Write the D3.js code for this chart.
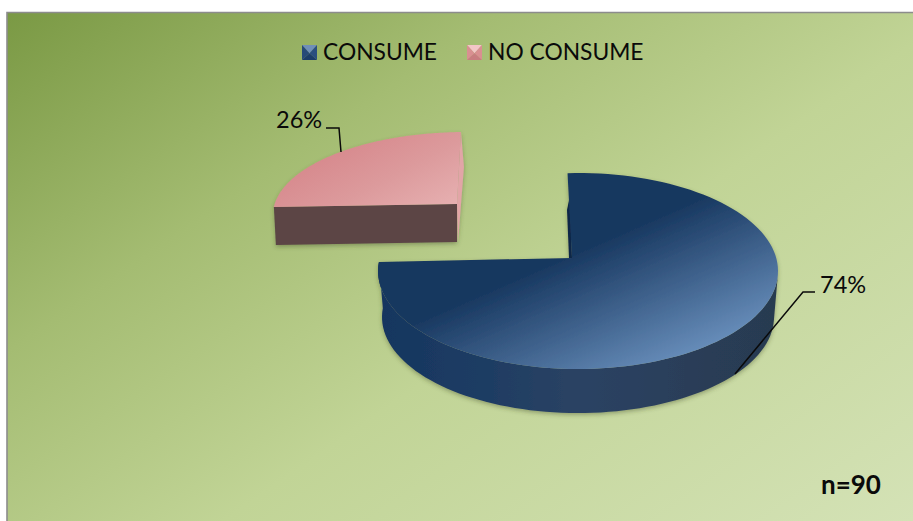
<!DOCTYPE html>
<html>
<head>
<meta charset="utf-8">
<script src="https://cdn.jsdelivr.net/npm/d3@7"></script>
<style>
  html, body { margin: 0; padding: 0; background: #fff; }
  svg { display: block; }
  text { font-family: Lato, "Open Sans", sans-serif; fill: #0a0a0a; }
</style>
</head>
<body>
<svg id="chart" width="913" height="521"></svg>
<script>
const categories = ["CONSUME", "NO CONSUME"];
const shares = [74, 26];
const sampleLabel = "n=90";

const W = 913, H = 521;
const svg = d3.select("#chart");
const defs = svg.append("defs");

function linear(id, coords, stops) {
  const g = defs.append("linearGradient").attr("id", id).attr("gradientUnits", "userSpaceOnUse");
  Object.entries(coords).forEach(([k, v]) => g.attr(k, v));
  stops.forEach(([o, c]) => g.append("stop").attr("offset", o).attr("stop-color", c));
}

linear("plate", { x1: 7, y1: 12, x2: 538, y2: 780 }, [
  [0, "#7a9944"], [0.3, "#a4bc72"], [0.58, "#c1d496"], [1, "#d4e2b6"]
]);
linear("blueTop", { x1: 577, y1: 250, x2: 636, y2: 385 }, [
  [0, "#17375f"], [1, "#6a90bd"]
]);
linear("blueWall", { x1: 380, y1: 0, x2: 775, y2: 0 }, [
  [0, "#16365f"], [0.25, "#1d3c64"], [0.5, "#2b4364"], [1, "#283a50"]
]);
linear("redTop", { x1: 345, y1: 140, x2: 395, y2: 235 }, [
  [0, "#d7898d"], [0.5, "#dc9a9c"], [1, "#e6afb0"]
]);

const soft = defs.append("filter").attr("id", "soft")
  .attr("x", "-10%").attr("y", "-10%").attr("width", "120%").attr("height", "125%");
soft.append("feDropShadow").attr("dx", 0).attr("dy", 2).attr("stdDeviation", 2)
  .attr("flood-color", "#3c4a2a").attr("flood-opacity", 0.4);

// Chart area with its grey top and left rule
svg.append("rect").attr("x", 7).attr("y", 12).attr("width", W - 7).attr("height", H - 12)
  .attr("fill", "url(#plate)");
svg.append("path").attr("d", `M7 ${H}V12.5H${W}`).attr("fill", "none")
  .attr("stroke", "#8c8c8c").attr("stroke-width", 1.6);

// Each exploded slice has its own tilted ellipse; sweep converts pie angles to ellipse angles.
const deg = Math.PI / 180;
const looks = [
  { cx: 578, cy: 271, rx: 200, ry: 98, apex: [572, 258], sweep: [-3, 275.3],
    depth: 46, foot: 0.98, top: "url(#blueTop)", wall: "url(#blueWall)", cut: "#0f2747" },
  { cx: 466, cy: 215, rx: 193, ry: 83, apex: [457, 204], sweep: [275.5, 358.5],
    depth: 38, foot: 1, top: "url(#redTop)", wall: "#5b4545", cut: "#e2a5a7" }
];

const pieAngles = d3.pie().sort(null)(shares);
const curve = d3.line().x(d => d[0]).y(d => d[1]);

pieAngles.forEach((slice, i) => {
  const s = looks[i];
  const toEllipse = d3.scaleLinear().domain([slice.startAngle, slice.endAngle]).range(s.sweep);
  const onRim = (a, r = 1, drop = 0) => [
    s.cx + s.rx * r * Math.sin(a * deg),
    s.cy + drop - s.ry * r * Math.cos(a * deg)
  ];
  const angles = d3.range(0, 121).map(k =>
    toEllipse(slice.startAngle + (slice.endAngle - slice.startAngle) * k / 120));
  const rim = angles.map(a => onRim(a));
  const g = svg.append("g").attr("filter", "url(#soft)");

  if (i === 0) {
    // Curved outer wall: visible from the right edge round to the left end
    const seen = angles.filter(a => a >= 90);
    const upper = seen.map(a => onRim(a));
    const lower = seen.map(a => onRim(a, s.foot, s.depth)).reverse();
    g.append("path").attr("d", curve(upper.concat(lower)) + "Z").attr("fill", s.wall);
    // Dark sliver of the inner cut beside the notch
    g.append("path").attr("d", curve([[570, 195], [567, 210], [569, 258], [572, 258]]) + "Z").attr("fill", s.cut);
  } else {
    const left = rim[0], tip = rim[rim.length - 1];
    g.append("path").attr("d", curve([left, s.apex,
      [s.apex[0], s.apex[1] + s.depth], [left[0] + 2, left[1] + s.depth]]) + "Z").attr("fill", s.wall);
    g.append("path").attr("d", curve([tip, [tip[0] + 3, tip[1] + 35],
      [s.apex[0] + 1, s.apex[1] + s.depth], s.apex]) + "Z").attr("fill", s.cut);
  }

  g.append("path").attr("d", curve([s.apex].concat(rim)) + "Z").attr("fill", s.top);
});

// Leader lines and percentage labels
const leaders = [
  [[735, 374], [803, 292], [815, 292]],
  [[326, 128], [339, 128], [341, 152]]
];
leaders.forEach(pts => {
  svg.append("path").attr("d", curve(pts)).attr("fill", "none")
    .attr("stroke", "#0a0a0a").attr("stroke-width", 1.5);
});
const labelAt = [[820, 293], [276, 128]];
shares.forEach((v, i) => {
  svg.append("text").attr("x", labelAt[i][0]).attr("y", labelAt[i][1])
    .attr("font-size", 23.5).text(v + "%");
});

// Legend with bevelled swatches
const legendAt = [{ box: 302, text: 323 }, { box: 467, text: 488 }];
const swatchTones = [
  ["#6f8fb8", "#2b4f7f", "#274a78", "#1c3d69"],
  ["#f2c6c6", "#d98f91", "#d98f91", "#c87d80"]
];
categories.forEach((name, i) => {
  const x = legendAt[i].box, y = 45, sz = 15, c = sz / 2;
  const corners = [[x, y], [x + sz, y], [x + sz, y + sz], [x, y + sz]];
  const mid = [x + c, y + c * 1.1];
  const order = [0, 1, 3, 2];
  order.forEach((k, j) => {
    const a = corners[k], b = corners[(k + 1) % 4];
    svg.append("path").attr("d", curve([a, b, mid]) + "Z")
      .attr("fill", swatchTones[i][j]);
  });
  svg.append("text").attr("x", legendAt[i].text).attr("y", 60)
    .attr("font-size", 22.8).text(name);
});

svg.append("text").attr("x", 821).attr("y", 494)
  .attr("font-size", 26).attr("font-weight", 700).text(sampleLabel);
</script>
</body>
</html>
